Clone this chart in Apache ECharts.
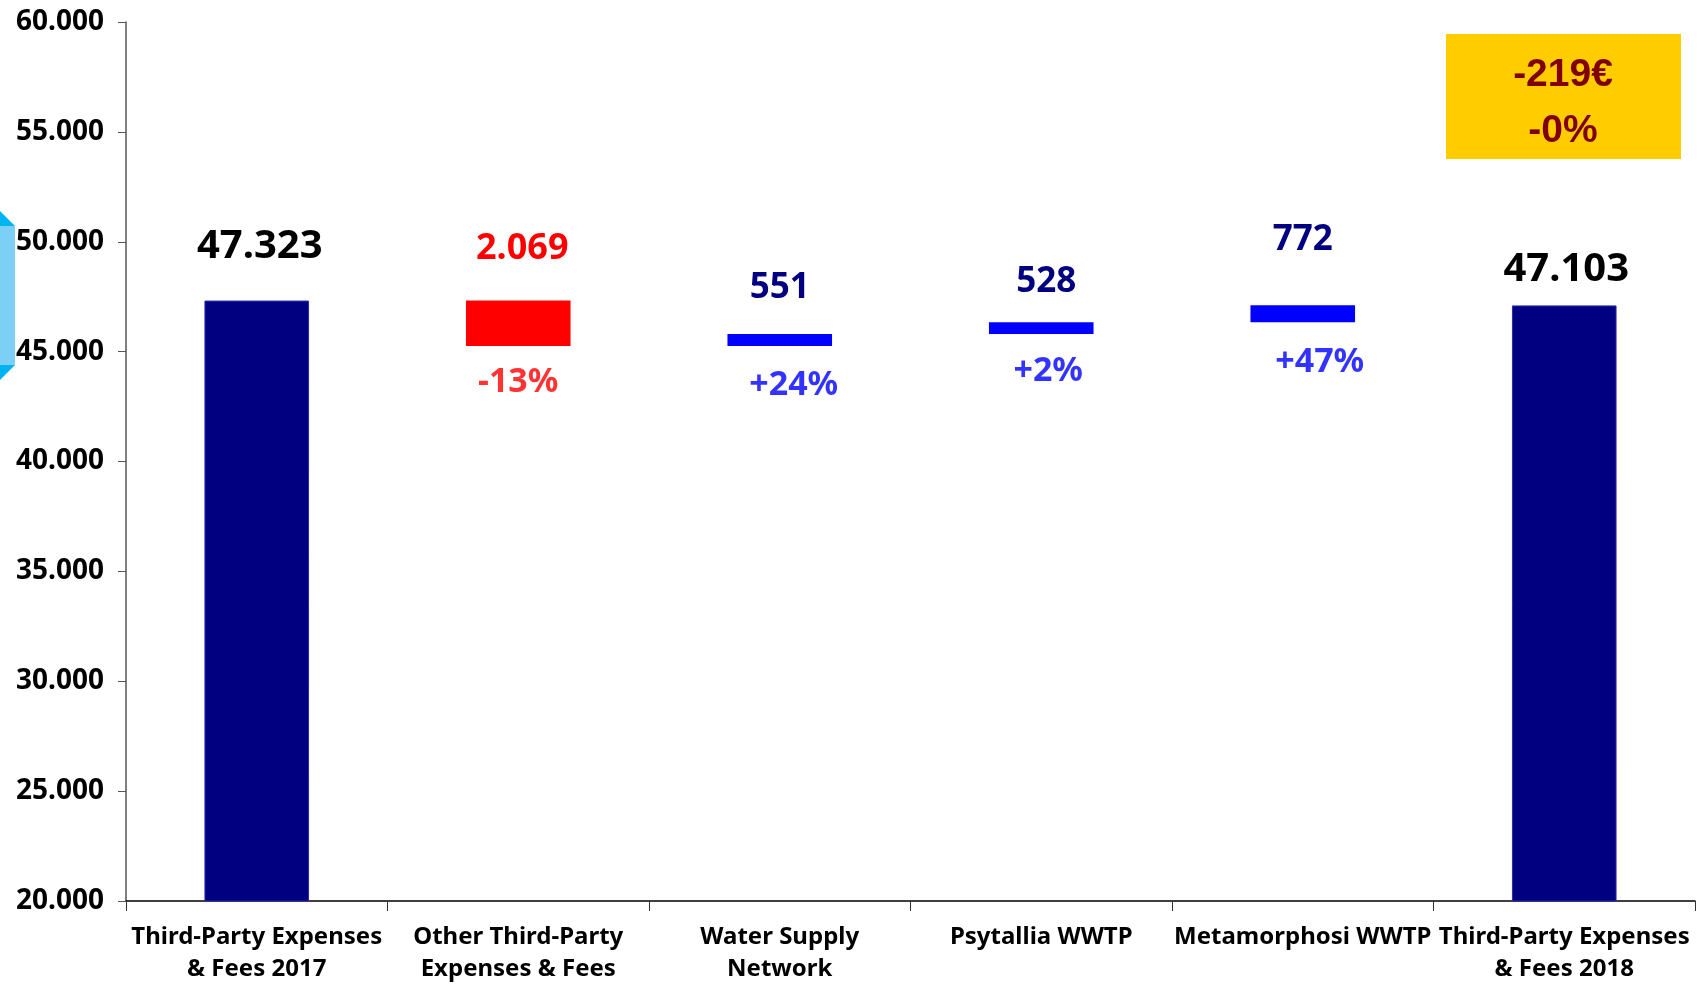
<!DOCTYPE html>
<html>
<head>
<meta charset="utf-8">
<script src="https://cdn.jsdelivr.net/npm/echarts@6/dist/echarts.min.js"></script>
<style>
  html, body { margin: 0; padding: 0; background: #fff; }
  #main { width: 1697px; height: 985px; }
</style>
</head>
<body>
<div id="main"></div>
<script>
// waterfall data
var categories = ['Third-Party Expenses\n& Fees 2017', 'Other Third-Party\nExpenses & Fees', 'Water Supply\nNetwork', 'Psytallia WWTP', 'Metamorphosi WWTP', 'Third-Party Expenses\n& Fees 2018'];
var startTotal = 47323;
var endTotal = 47103;
var changes = [-2069, 551, 528, 772];
var changePct = ['-13%', '+24%', '+2%', '+47%'];
var yMin = 20000, yMax = 60000, yStep = 5000;
var summaryText = ['-219€', '-0%'];

// label placement (styling only)
var topDist = [34, 34, 28, 23, 48, 16];
var topDx = [3, 4, 0, 5, 0, 2];
var pctDist = [19, 22, 20, 23];
var pctDx = [0, 14, 7, 17];

var FONT = '"Noto Sans", "Open Sans", sans-serif';

function fmt(n) {
  return String(Math.abs(n)).replace(/\B(?=(\d{3})+(?!\d))/g, '.');
}

// build stacked series from the arrays
var base = [0], totals = [startTotal], down = ['-'], up = ['-'], bottoms = ['-'];
var running = startTotal;
changes.forEach(function (c) {
  if (c < 0) {
    running += c;
    base.push(running); down.push(-c); up.push('-');
    bottoms.push(running);
  } else {
    base.push(running); up.push(c); down.push('-');
    bottoms.push(running);
    running += c;
  }
  totals.push('-');
});
base.push(0); totals.push(endTotal); down.push('-'); up.push('-'); bottoms.push('-');

function withTopLabel(arr, color, size, textFn) {
  return arr.map(function (v, i) {
    if (v === '-') return '-';
    return {
      value: v,
      label: {
        show: true, position: 'top', distance: topDist[i], offset: [topDx[i], 0],
        color: color, fontSize: size, lineHeight: size, fontWeight: 'bold', fontFamily: FONT,
        formatter: function () { return textFn(i); }
      }
    };
  });
}

var pctData = bottoms.map(function (v, i) {
  if (v === '-') return '-';
  var k = i - 1;
  return {
    value: v,
    label: {
      show: true, position: 'bottom', distance: pctDist[k], offset: [pctDx[k], 0],
      formatter: changePct[k],
      color: changes[k] < 0 ? '#ff0000' : '#0000ff',
      fontSize: 34, lineHeight: 34, fontWeight: 'bold', fontFamily: FONT
    }
  };
});

var myChart = echarts.init(document.getElementById('main'));

var option = {
  animation: false,
  grid: { left: 126, right: 2, top: 22, bottom: 81, containLabel: false },
  xAxis: {
    type: 'category',
    data: categories,
    axisLine: { lineStyle: { color: '#000', width: 1.5 } },
    axisTick: { show: true, length: 10, lineStyle: { color: '#333' } },
    axisLabel: {
      color: '#000', fontSize: 24, lineHeight: 32, fontWeight: 'bold',
      fontFamily: FONT, margin: 20, interval: 0
    }
  },
  yAxis: {
    type: 'value',
    min: yMin, max: yMax, interval: yStep,
    splitLine: { show: false },
    axisLine: { show: true, lineStyle: { color: '#555', width: 1.5 } },
    axisTick: { show: true, length: 8, lineStyle: { color: '#555' } },
    axisLabel: {
      color: '#000', fontSize: 28, fontWeight: 'bold', fontFamily: FONT, margin: 22,
      formatter: function (v) { return fmt(v); }
    }
  },
  series: [
    {
      name: 'base', type: 'bar', stack: 'wf', barWidth: '40%', silent: true,
      itemStyle: { color: 'transparent' },
      data: base
    },
    {
      name: 'total', type: 'bar', stack: 'wf',
      itemStyle: { color: '#000080', borderColor: '#2a2ab0', borderWidth: 1 },
      data: withTopLabel(totals, '#000', 40, function (i) { return fmt(totals[i]); })
    },
    {
      name: 'decrease', type: 'bar', stack: 'wf',
      itemStyle: { color: '#ff0000' },
      data: withTopLabel(down, '#ff0000', 36, function (i) { return fmt(down[i]); })
    },
    {
      name: 'increase', type: 'bar', stack: 'wf',
      itemStyle: { color: '#0000ff' },
      data: withTopLabel(up, '#000080', 35, function (i) { return fmt(up[i]); })
    },
    {
      name: 'pct', type: 'scatter', symbolSize: 0, silent: true,
      data: pctData
    }
  ],
  graphic: [
    // cyan arrow edge on the left
    { type: 'polygon', shape: { points: [[0, 211], [15, 226], [0, 226]] }, style: { fill: '#00b4f0' } },
    { type: 'rect', shape: { x: 0, y: 226, width: 15, height: 139 }, style: { fill: '#7dd0f5' } },
    { type: 'polygon', shape: { points: [[0, 365], [15, 365], [0, 380]] }, style: { fill: '#00b4f0' } },
    // summary box
    { type: 'rect', shape: { x: 1446, y: 34, width: 235, height: 125 }, style: { fill: '#ffcc00' } },
    {
      type: 'text', x: 1563, y: 75,
      style: { text: summaryText[0], fill: '#800000', font: 'bold 39px "Liberation Sans Narrow", "Liberation Sans", sans-serif', align: 'center', verticalAlign: 'middle' }
    },
    {
      type: 'text', x: 1563, y: 131,
      style: { text: summaryText[1], fill: '#800000', font: 'bold 39px "Liberation Sans Narrow", "Liberation Sans", sans-serif', align: 'center', verticalAlign: 'middle' }
    }
  ]
};

myChart.setOption(option);
</script>
</body>
</html>
